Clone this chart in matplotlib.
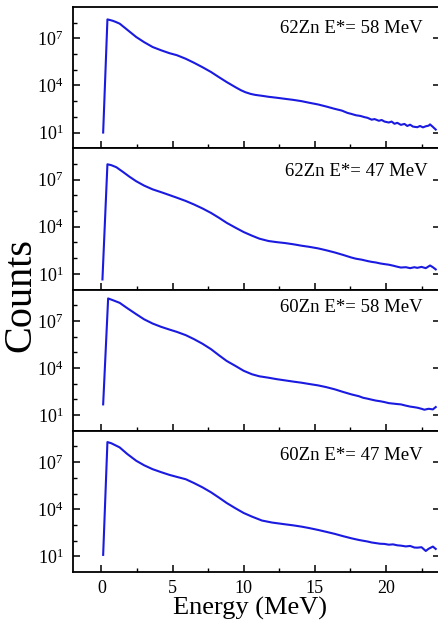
import numpy as np
import matplotlib
matplotlib.use("Agg")
import matplotlib.pyplot as plt
from matplotlib.ticker import FixedLocator, MultipleLocator, NullFormatter, LogFormatterSciNotation

plt.rcParams["font.family"] = ["Liberation Serif", "DejaVu Serif"]
plt.rcParams["mathtext.fontset"] = "stix"

# ── data (energy in MeV, log10 of counts) ───────────────────────────────────
labels = ["62Zn E*= 58 MeV", "62Zn E*= 47 MeV", "60Zn E*= 58 MeV", "60Zn E*= 47 MeV"]

e1 = [0.12, 0.42, 0.6, 0.8, 1.0, 1.28, 1.8, 2.44, 3.0, 3.6, 4.2, 4.77,
      5.3, 5.93, 6.5, 7.09, 7.7, 8.26, 8.8, 9.42, 9.8, 10.12, 10.5, 10.81, 11.3, 11.74,
      12.3, 12.9, 13.5, 14.07, 14.6, 15.23, 15.8, 16.4, 16.9, 17.3, 17.56, 17.9, 18.2,
      18.5, 18.7, 19.0, 19.2, 19.5, 19.7, 19.9, 20.2, 20.4, 20.6, 20.8, 21.05, 21.3,
      21.5, 21.7, 21.9, 22.2, 22.4, 22.6, 22.8, 23.0, 23.1, 23.3, 23.5]
c1 = [1.00, 8.21, 8.17, 8.12, 8.05, 7.94, 7.56, 7.09, 6.76, 6.45, 6.24, 6.06,
      5.93, 5.70, 5.45, 5.17, 4.86, 4.53, 4.22, 3.89, 3.70, 3.57, 3.46, 3.40, 3.34, 3.28,
      3.22, 3.15, 3.08, 3.00, 2.90, 2.79, 2.66, 2.51, 2.40, 2.25, 2.19, 2.10, 2.06,
      1.98, 1.94, 1.82, 1.86, 1.75, 1.80, 1.70, 1.64, 1.70, 1.56, 1.62, 1.49, 1.55,
      1.42, 1.50, 1.38, 1.34, 1.42, 1.33, 1.40, 1.44, 1.52, 1.36, 1.19]

e2 = [0.07, 0.42, 0.7, 1.05, 1.5, 1.98, 2.44, 3.0, 3.6, 4.2, 4.77, 5.3, 5.93, 6.5, 7.09,
      7.7, 8.26, 8.8, 9.42, 10.0, 10.58, 11.1, 11.74, 12.3, 12.9, 13.5, 14.07, 14.6,
      15.23, 15.8, 16.4, 17.0, 17.56, 17.9, 18.3, 18.72, 19.0, 19.3, 19.6, 19.88, 20.2,
      20.5, 20.8, 21.05, 21.4, 21.7, 22.0, 22.2, 22.5, 22.8, 23.1, 23.3, 23.5]
c2 = [0.64, 7.98, 7.92, 7.79, 7.50, 7.18, 6.90, 6.62, 6.38, 6.20, 6.02, 5.85, 5.64, 5.42, 5.17,
      4.88, 4.57, 4.25, 3.94, 3.66, 3.43, 3.24, 3.09, 3.02, 2.96, 2.88, 2.79, 2.72,
      2.62, 2.50, 2.36, 2.20, 2.04, 1.96, 1.90, 1.81, 1.76, 1.72, 1.66, 1.62, 1.58,
      1.52, 1.45, 1.40, 1.42, 1.36, 1.42, 1.38, 1.44, 1.36, 1.53, 1.42, 1.28]

e3 = [0.12, 0.47, 0.8, 1.28, 1.8, 2.44, 3.0, 3.6, 4.2, 4.77, 5.3, 5.93, 6.5, 7.09, 7.7,
      8.26, 8.8, 9.42, 10.0, 10.58, 11.1, 11.74, 12.3, 12.9, 13.5, 14.07, 14.6, 15.23,
      15.8, 16.4, 17.0, 17.56, 18.1, 18.4, 18.72, 19.0, 19.3, 19.6, 19.88, 20.2, 20.5,
      20.8, 21.05, 21.4, 21.7, 22.0, 22.2, 22.5, 22.7, 23.0, 23.3, 23.5]
c3 = [1.68, 8.43, 8.32, 8.15, 7.82, 7.43, 7.10, 6.83, 6.62, 6.45, 6.30, 6.09, 5.84, 5.55, 5.20,
      4.81, 4.45, 4.13, 3.82, 3.60, 3.47, 3.38, 3.29, 3.21, 3.13, 3.06, 2.98, 2.89,
      2.78, 2.64, 2.47, 2.32, 2.20, 2.10, 2.04, 1.98, 1.92, 1.88, 1.83, 1.76, 1.73,
      1.70, 1.68, 1.60, 1.54, 1.50, 1.47, 1.40, 1.34, 1.40, 1.36, 1.51]

e4 = [0.12, 0.42, 0.7, 1.28, 1.8, 2.44, 3.0, 3.6, 4.2, 4.77, 5.3, 5.93, 6.5, 7.09, 7.7,
      8.26, 8.8, 9.42, 10.0, 10.58, 11.28, 12.0, 12.9, 13.5, 14.07, 14.6, 15.23, 15.8,
      16.4, 17.0, 17.56, 18.1, 18.72, 19.0, 19.3, 19.6, 19.88, 20.2, 20.5, 20.8, 21.05,
      21.4, 21.7, 22.0, 22.2, 22.5, 22.8, 23.0, 23.3, 23.5]
c4 = [1.09, 8.28, 8.20, 7.94, 7.53, 7.09, 6.80, 6.55, 6.36, 6.19, 6.06, 5.91, 5.67, 5.40, 5.08,
      4.74, 4.40, 4.06, 3.76, 3.53, 3.28, 3.15, 3.04, 2.97, 2.89, 2.80, 2.68, 2.56,
      2.43, 2.28, 2.15, 2.04, 1.94, 1.88, 1.84, 1.80, 1.79, 1.74, 1.76, 1.70, 1.68,
      1.63, 1.66, 1.56, 1.55, 1.58, 1.34, 1.48, 1.62, 1.47]

energies = [e1, e2, e3, e4]
log_counts = [c1, c2, c3, c4]

y_major = [1e1, 1e4, 1e7]
y_minor = [1e2, 1e3, 1e5, 1e6, 1e8]

# label position (axes fraction, right edge / vertical centre) per panel
label_pos = [(0.954, 0.845), (0.967, 0.837), (0.954, 0.872), (0.954, 0.825)]

W, H = 438, 626
fig = plt.figure(figsize=(W / 100, H / 100), dpi=100)

left, right = 73, 440
top, bottom = 7, 572
ph = (bottom - top) / 4

for i in range(4):
    y0 = bottom - (4 - i) * ph
    ax = fig.add_axes([left / W, 1 - (y0 + ph) / H, (right - left) / W, ph / H])
    ax.plot(energies[i], 10 ** np.array(log_counts[i]), color="#1a1ae0", lw=1.5)
    ax.set_yscale("log")
    ax.set_xlim(-2, 23.8)
    ax.set_ylim(1, 1e9)
    ax.yaxis.set_major_locator(FixedLocator(y_major))
    ax.yaxis.set_major_formatter(LogFormatterSciNotation())
    ax.yaxis.set_minor_locator(FixedLocator(y_minor))
    ax.yaxis.set_minor_formatter(NullFormatter())
    ax.xaxis.set_major_locator(MultipleLocator(5))
    ax.xaxis.set_minor_locator(MultipleLocator(2.5))
    ax.tick_params(which="both", direction="in", labelsize=13, right=True, top=False)
    ax.tick_params(which="major", length=5, width=1.1, pad=7)
    ax.tick_params(which="minor", length=3, width=1.0, right=False)
    ax.tick_params(axis="x", pad=6)
    for s in ax.spines.values():
        s.set_linewidth(1.3)
    if i < 3:
        ax.tick_params(axis="x", labelbottom=False)
    else:
        ax.set_xlabel("Energy (MeV)", fontsize=19)
        ax.xaxis.set_label_coords(0.482, -0.175)
    tx, ty = label_pos[i]
    ax.text(tx, ty, labels[i], transform=ax.transAxes, ha="right", va="center",
            fontsize=13.5)

fig.text(21 / W, 1 - 295 / H, "Counts", rotation=90, ha="center", va="center",
         fontsize=29)

fig.savefig("out.png", dpi=100)
